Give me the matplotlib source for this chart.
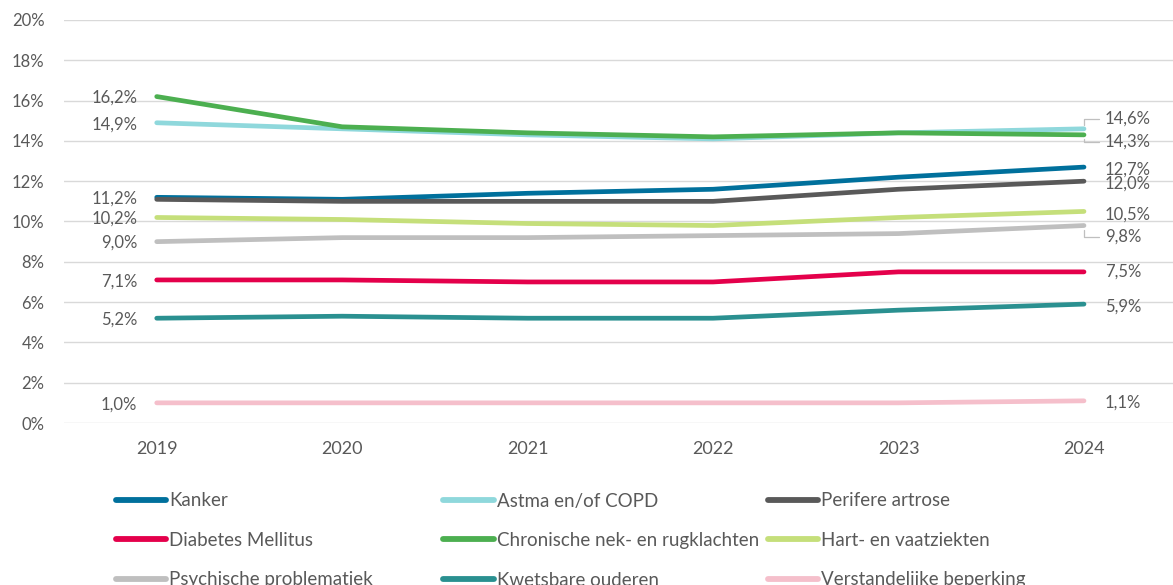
import matplotlib
matplotlib.use('Agg')
import matplotlib.pyplot as plt
from matplotlib.ticker import FuncFormatter

plt.rcParams['font.family'] = ['Lato', 'DejaVu Sans']

years = ['2019', '2020', '2021', '2022', '2023', '2024']

kanker = [11.2, 11.1, 11.4, 11.6, 12.2, 12.7]
astma = [14.9, 14.6, 14.3, 14.1, 14.4, 14.6]
artrose = [11.1, 11.0, 11.0, 11.0, 11.6, 12.0]
diabetes = [7.1, 7.1, 7.0, 7.0, 7.5, 7.5]
nekrug = [16.2, 14.7, 14.4, 14.2, 14.4, 14.3]
hartvaat = [10.2, 10.1, 9.9, 9.8, 10.2, 10.5]
psychisch = [9.0, 9.2, 9.2, 9.3, 9.4, 9.8]
kwetsbaar = [5.2, 5.3, 5.2, 5.2, 5.6, 5.9]
verstandelijk = [1.0, 1.0, 1.0, 1.0, 1.0, 1.1]

series = [
    ('Kanker', kanker, '#00709c'),
    ('Astma en/of COPD', astma, '#8fd8dc'),
    ('Perifere artrose', artrose, '#595959'),
    ('Diabetes Mellitus', diabetes, '#e4004b'),
    ('Chronische nek- en rugklachten', nekrug, '#4caf50'),
    ('Hart- en vaatziekten', hartvaat, '#c5df7a'),
    ('Psychische problematiek', psychisch, '#bfbfbf'),
    ('Kwetsbare ouderen', kwetsbaar, '#2a9090'),
    ('Verstandelijke beperking', verstandelijk, '#f5bfcb'),
]

# label offsets in points (dy); series missing from a dict get no label there
left_dy = {'Kanker': -1, 'Astma en/of COPD': -1, 'Diabetes Mellitus': -1,
           'Chronische nek- en rugklachten': -1, 'Hart- en vaatziekten': -1,
           'Psychische problematiek': -1, 'Kwetsbare ouderen': -1,
           'Verstandelijke beperking': -1}
right_dy = {'Kanker': -2, 'Astma en/of COPD': 7, 'Perifere artrose': -2,
            'Diabetes Mellitus': 0, 'Chronische nek- en rugklachten': -5,
            'Hart- en vaatziekten': -2, 'Psychische problematiek': -8,
            'Kwetsbare ouderen': -2, 'Verstandelijke beperking': -1}
leader = {'Astma en/of COPD', 'Chronische nek- en rugklachten',
          'Psychische problematiek'}

txt = '#595959'
fig = plt.figure(figsize=(11.73, 5.85), dpi=100)
ax = fig.add_axes([64 / 1173, 1 - 423 / 585, 1 - 64 / 1173, (423 - 20) / 585])

x = list(range(len(years)))
fmt = lambda v: f'{v:.1f}%'.replace('.', ',')
lines = []
for name, vals, color in series:
    ln, = ax.plot(x, vals, color=color, lw=3.4, solid_capstyle='round',
                  label=name, zorder=3)
    lines.append(ln)
    if name in left_dy:
        ax.annotate(fmt(vals[0]), xy=(x[0], vals[0]), xytext=(-14, left_dy[name]),
                    textcoords='offset points', ha='right', va='center',
                    fontsize=12, color=txt)
    if name in right_dy:
        arrow = None
        if name in leader:
            arrow = dict(arrowstyle='-', color='#bfbfbf', lw=0.9,
                         shrinkA=2, shrinkB=3,
                         connectionstyle='angle,angleA=0,angleB=90,rad=0')
        ax.annotate(fmt(vals[-1]), xy=(x[-1], vals[-1]),
                    xytext=(15, right_dy[name]), textcoords='offset points',
                    ha='left', va='center', fontsize=12, color=txt,
                    arrowprops=arrow)

ax.set_xlim(-0.5, 5.48)
ax.set_ylim(0, 20)
ax.set_yticks(range(0, 21, 2))
ax.yaxis.set_major_formatter(FuncFormatter(lambda v, p: f'{v:.0f}%'))
ax.set_xticks(x)
ax.set_xticklabels(years)
ax.tick_params(length=0, labelsize=12, labelcolor=txt)
ax.tick_params(axis='y', pad=14)
ax.tick_params(axis='x', pad=13, labelsize=13)
ax.grid(axis='y', color='#d9d9d9', lw=1)
ax.set_axisbelow(True)
for s in ax.spines.values():
    s.set_visible(False)

# legend laid out in three equal-width columns
col_x = [108, 436, 760]
for c in range(3):
    leg = fig.legend(handles=lines[c::3], loc='upper left',
                     bbox_to_anchor=(col_x[c] / 1173, 1 - 485 / 585),
                     frameon=False, fontsize=13.5, handlelength=2.7,
                     handletextpad=0.15, labelspacing=1.2, borderaxespad=0,
                     labelcolor=txt)
    for h in leg.get_lines():
        h.set_linewidth(4.2)

fig.savefig('out.png', dpi=100)
